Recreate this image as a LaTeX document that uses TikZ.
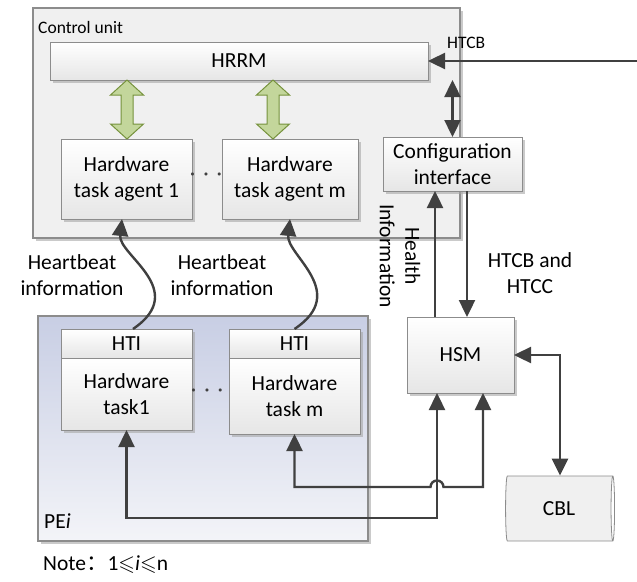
\documentclass[tikz,border=0pt]{standalone}
\usepackage{amssymb}
\usepackage{fontspec}
\setmainfont{Carlito}
\newfontfamily\cjkfont{Noto Sans CJK SC}
\usepackage{tikz}
\usetikzlibrary{positioning,arrows.meta,shapes.geometric,shadows,calc}
\definecolor{hmline}{HTML}{404040}
\definecolor{hmframe}{HTML}{8C8C8C}
\definecolor{hmpanel}{HTML}{F0F0F0}
\definecolor{hmboxlow}{HTML}{E6E6E6}
\definecolor{hmgreen}{HTML}{C3D69B}
\definecolor{hmgreenedge}{HTML}{76923C}
\definecolor{hmpetop}{HTML}{C8CEE4}
\definecolor{hmpelow}{HTML}{F3F4F8}
% wide two-headed arrow from a top tip #1 down to a bottom tip #2
\newcommand{\fatlink}[2]{%
  \draw[fat] (#1) -- ++(16.5,15) -- ++(-10.5,0) -- ($(#2)+(6,-15)$)
    -- ++(10.5,0) -- (#2) -- ++(-16.5,-15) -- ++(10.5,0)
    -- ($(#1)+(-6,15)$) -- ++(-10.5,0) -- cycle;}

\begin{document}
\begin{tikzpicture}[x=1pt,y=-1pt,
  font=\fontsize{21.5}{25.7}\selectfont,
  small/.style={font=\fontsize{17.5}{21}\selectfont},
  shade/.style={drop shadow={shadow xshift=3pt,shadow yshift=-3pt,fill=black!35,opacity=.6}},
  panel/.style={draw=hmframe,line width=1.2pt,fill=hmpanel,shade},
  pe/.style={draw=hmframe,line width=1.2pt,top color=hmpetop,bottom color=hmpelow,shade},
  blk/.style={draw=hmframe,line width=0.8pt,top color=white,bottom color=hmboxlow,
              shade,align=center,inner sep=2pt,outer sep=0pt},
  fat/.style={draw=hmgreenedge,fill=hmgreen,line width=1pt,line join=miter},
  arr/.style={-{Triangle[length=17pt,width=16pt]},hmline,line width=2.4pt},
  biarr/.style={arr,{Triangle[length=17pt,width=16pt]}-{Triangle[length=17pt,width=16pt]}},
  lbl/.style={align=center,inner sep=0pt}
]
\useasboundingbox (0,0) rectangle (637,581);

% control unit
\node[panel,minimum width=427pt,minimum height=230pt] (ctrl) at (246.5,123) {};
\node[small,anchor=base west,inner sep=0pt] (ctrltitle) at (38,33) {Control unit};
\node[blk,minimum width=378pt,minimum height=38pt] (hrrm) at (239,61) {HRRM};
\node[blk,minimum width=131pt,minimum height=80pt] (agent1) at (126.5,179) {Hardware\\task agent 1};
\node[blk,minimum width=136pt,minimum height=80pt] (agentm) at (290,179) {Hardware\\task agent m};
\node[blk,minimum width=139pt,minimum height=54pt] (cfg) at (452.5,164) {Configuration\\interface};
\node[inner sep=0pt,text=hmline] (dotsa) at (206,177)
  {\textperiodcentered\hspace{8pt}\textperiodcentered\hspace{8pt}\textperiodcentered};

% processing element
\node[pe,minimum width=330pt,minimum height=225pt] (pe) at (203,428.5) {};
\node[anchor=base west,inner sep=0pt] (petitle) at (44,528) {PE\textit{i}};
\node[blk,minimum width=131pt,minimum height=29pt] (hti1) at (126.5,343.5) {HTI};
\node[blk,minimum width=131pt,minimum height=72pt,below=0pt of hti1] (task1) {Hardware\\task1};
\node[blk,minimum width=131pt,minimum height=29pt] (htim) at (294.5,343.5) {HTI};
\node[blk,minimum width=131pt,minimum height=76pt,below=0pt of htim] (taskm) {Hardware\\task m};
\node[inner sep=0pt,text=hmline] (dotsb) at (207,393)
  {\textperiodcentered\hspace{8pt}\textperiodcentered\hspace{8pt}\textperiodcentered};

% health supervision side
\node[blk,minimum width=107pt,minimum height=76pt] (hsm) at (460.5,355) {HSM};
\node[cylinder,draw=hmframe,line width=0.8pt,aspect=0.25,
      cylinder uses custom fill,cylinder body fill=hmpanel,cylinder end fill=white,
      shape border rotate=0,minimum height=109pt,minimum width=65pt,inner sep=0pt]
  (cbl) at (559,508.5) {CBL};

% green links between HRRM and the agents
\coordinate (g1x) at (127,0);
\coordinate (g2x) at (273,0);
\fatlink{hrrm.south -| g1x}{agent1.north -| g1x}
\fatlink{hrrm.south -| g2x}{agentm.north -| g2x}

% control flow
\coordinate (htcbin) at (637,61);
\draw[arr] (htcbin) -- (hrrm.east);
\node[small,anchor=base west,inner sep=0pt] (htcbtag) at (447,48) {HTCB};
\draw[biarr] (cfg.north) -- (cfg.north |- hrrm.south);
\draw[arr] ([xshift=-25.5pt]hsm.north) -- ([xshift=-25.5pt]hsm.north |- cfg.south);
\draw[arr] ([xshift=14.5pt]cfg.south) -- ([xshift=14.5pt]cfg.south |- hsm.north);
\node[lbl,rotate=-90] (health) at (400,256) {Health\\Information};
\node[lbl] (htcbhtcc) at (530,273) {HTCB and\\HTCC};

% heartbeat
\draw[arr] ([xshift=6.5pt]hti1.north) .. controls (190,290) and (118,255) .. ([xshift=-4.5pt]agent1.south);
\draw[arr] (htim.north) .. controls (350,292) and (286,255) .. (agentm.south);
\node[lbl] (hb1) at (72,275) {Heartbeat\\information};
\node[lbl] (hb2) at (222,275) {Heartbeat\\information};

% task <-> HSM buses
\coordinate (busa) at (437,518);
\coordinate (busb) at (483,487);
\draw[biarr] (task1.south) |- (busa) -- (busa |- hsm.south);
\draw[biarr] (taskm.south) |- (430.5,487) arc[start angle=180,end angle=360,radius=6.5]
  -- (busb) -- (busb |- hsm.south);
\coordinate (cblx) at (560,0);
\draw[biarr] (hsm.east) -| (cblx |- cbl.north);

\node[anchor=base west,inner sep=0pt] (note) at (43,570)
  {Note{\cjkfont ：}1$\leqslant$\textit{i}$\leqslant$n};
\end{tikzpicture}
\end{document}
